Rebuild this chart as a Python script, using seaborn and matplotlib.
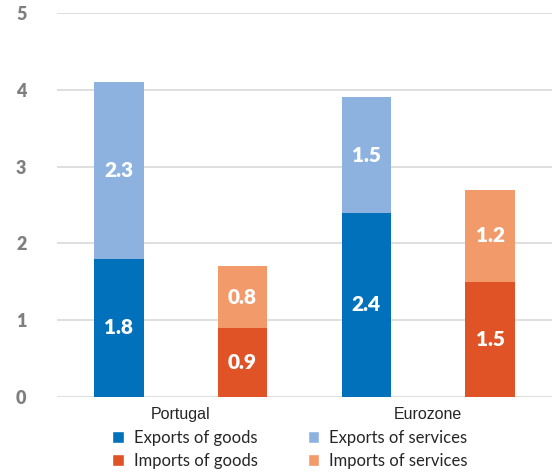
import pandas as pd
import seaborn as sns
import matplotlib.pyplot as plt
from matplotlib.patches import Patch

# valores
barras = ['Portugal exports', 'Portugal imports', 'Eurozone exports', 'Eurozone imports']
bens = [1.8, 0.9, 2.4, 1.5]
servicos = [2.3, 0.8, 1.5, 1.2]
grupos = ['Portugal', 'Eurozone']
cor_bens = ['#0171BB', '#E05326', '#0171BB', '#E05326']
cor_serv = ['#8DB2E0', '#F39A6B', '#8DB2E0', '#F39A6B']

df = pd.DataFrame({'barra': barras, 'bens': bens, 'servicos': servicos})
df['total'] = df['bens'] + df['servicos']

sns.set_style('white')
plt.rcParams['font.family'] = ['Lato', 'DejaVu Sans']

fig = plt.figure(figsize=(5.6, 4.75), dpi=100)
ax = fig.add_axes([57 / 560, 1 - 397 / 475, 495 / 560, 384 / 475])

# barra total (servicos por cima) e depois bens na base
sns.barplot(data=df, x='barra', y='total', hue='barra', palette=cor_serv,
            width=0.4, legend=False, saturation=1, linewidth=0, ax=ax, zorder=2)
sns.barplot(data=df, x='barra', y='bens', hue='barra', palette=cor_bens,
            width=0.4, legend=False, saturation=1, linewidth=0, ax=ax, zorder=3)

# rotulos brancos no meio de cada segmento
for i, row in df.iterrows():
    ax.text(i, row['bens'] / 2, f"{row['bens']:.1f}", ha='center', va='center',
            color='white', fontsize=15, fontweight='heavy', zorder=4)
    ax.text(i, row['bens'] + row['servicos'] / 2, f"{row['servicos']:.1f}",
            ha='center', va='center', color='white', fontsize=15,
            fontweight='heavy', zorder=4)

ax.set_xlim(-0.5, 3.5)
ax.set_ylim(0, 5)
ax.set_yticks([0, 1, 2, 3, 4, 5])
ax.set_yticklabels(['0', '1', '2', '3', '4', '5'], fontsize=13,
                   fontweight='heavy', color='#7F7F7F')
ax.yaxis.grid(True, color='#D9D9D9', linewidth=1.2)
ax.set_axisbelow(True)
for s in ax.spines.values():
    s.set_visible(False)
ax.tick_params(axis='y', length=0, pad=22)

ax.set_xticks([0.5, 2.5])
ax.set_xticklabels(grupos, fontsize=11.5, family='Liberation Sans', color='#262626')
ax.tick_params(axis='x', length=0, pad=7)
ax.set_xlabel('')
ax.set_ylabel('')

handles = [
    Patch(facecolor=cor_bens[0], label='Exports of goods'),
    Patch(facecolor=cor_bens[1], label='Imports of goods'),
    Patch(facecolor=cor_serv[0], label='Exports of services'),
    Patch(facecolor=cor_serv[1], label='Imports of services'),
]
fig.legend(handles=handles, ncol=2, loc='upper left',
           bbox_to_anchor=(112 / 560, 1 - 430 / 475), frameon=False,
           fontsize=12, handlelength=0.7, handleheight=0.7,
           handletextpad=0.6, columnspacing=3.0, labelspacing=0.4,
           borderpad=0, borderaxespad=0)

fig.savefig('out.png', dpi=100)
